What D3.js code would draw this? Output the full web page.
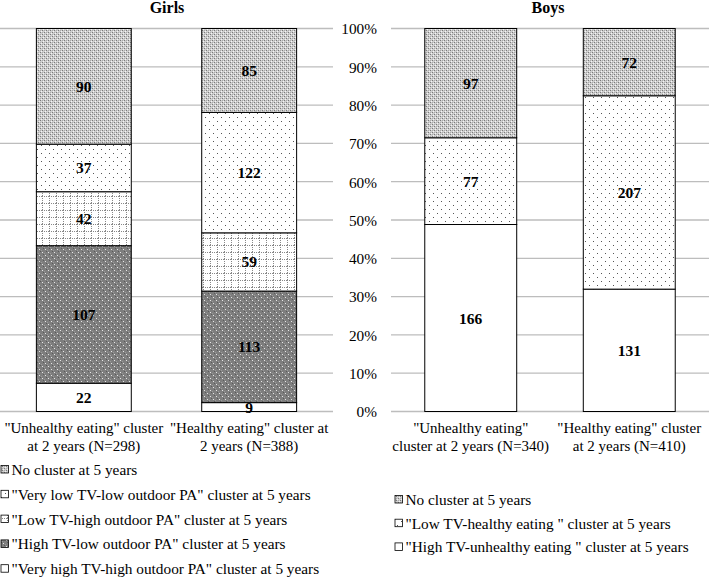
<!DOCTYPE html>
<html><head><meta charset="utf-8">
<script src="https://cdn.jsdelivr.net/npm/d3@7"></script>
<style>body{margin:0;background:#fff}svg{display:block}text{font-family:"Liberation Serif","Times New Roman",serif;fill:#000}</style>
</head><body>
<svg id="c" width="709" height="577" font-family="Liberation Serif"></svg>
<script>
// ---- DATA ----
const girlsCategories = [["\"Unhealthy eating\" cluster", "at 2 years (N=298)"], ["\"Healthy eating\" cluster at", "2 years (N=388)"]];
const girlsSeries = ["\"Very high TV-high outdoor PA\" cluster at 5 years", "\"High TV-low outdoor PA\" cluster at 5 years", "\"Low TV-high outdoor PA\" cluster at 5 years", "\"Very low TV-low outdoor PA\" cluster at 5 years", "No cluster at 5 years"];
const girlsValues = [[22, 9], [107, 113], [42, 59], [37, 122], [90, 85]];
const boysCategories = [["\"Unhealthy eating\"", "cluster at 2 years (N=340)"], ["\"Healthy eating\" cluster", "at 2 years (N=410)"]];
const boysSeries = ["\"High TV-unhealthy eating \" cluster at 5 years", "\"Low TV-healthy eating \" cluster at 5 years", "No cluster at 5 years"];
const boysValues = [[166, 131], [77, 207], [97, 72]];
const yTicks = [0, 0.1, 0.2, 0.3, 0.4, 0.5, 0.6, 0.7, 0.8, 0.9, 1];

const girlsFills = ["url(#pWhite)", "url(#pDark)", "url(#pGrid)", "url(#pSparse)", "url(#pDense)"];
const boysFills = ["url(#pWhite)", "url(#pSparse)", "url(#pDense)"];

const svg = d3.select("#c");
const defs = svg.append("defs");
function pat(id, w, h, bg, dots) {
  const p = defs.append("pattern").attr("id", id).attr("patternUnits", "userSpaceOnUse").attr("width", w).attr("height", h);
  p.append("rect").attr("width", w).attr("height", h).attr("fill", bg);
  dots.forEach(d => p.append("rect").attr("x", d[0]).attr("y", d[1]).attr("width", d[2] || 1).attr("height", d[3] || 1).attr("fill", d[4]));
  return p;
}
pat("pWhite", 4, 4, "#fff", []);
pat("pDense", 4, 4, "#cfcfcf", [[0,0,1,1,"#7a7a7a"],[2,2,1,1,"#7a7a7a"],[1,3,1,1,"#f4f4f4"],[3,1,1,1,"#f4f4f4"],[2,0,1,1,"#aaaaaa"],[0,2,1,1,"#aaaaaa"]]);
pat("pSparse", 8, 8, "#fff", [[1,1,1,1,"#555"],[5,5,1,1,"#555"]]);
const g = pat("pGrid", 7, 7, "#fff", []);
for (let i = 0; i < 7; i += 2) { g.append("rect").attr("x", 0).attr("y", i).attr("width", 1).attr("height", 1).attr("fill", "#888"); g.append("rect").attr("x", i).attr("y", 0).attr("width", 1).attr("height", 1).attr("fill", "#888"); }
pat("pDark", 6, 6, "#7e7e7e", [[0,0,1,1,"#e6e6e6"],[3,3,1,1,"#e6e6e6"],[1,2,1,1,"#5a5a5a"],[4,5,1,1,"#5a5a5a"],[2,1,1,1,"#9a9a9a"],[5,4,1,1,"#9a9a9a"]]);

const y = d3.scaleLinear().domain([0, 1]).range([411.5, 28.5]);

function panel(cfg) {
  const x = d3.scaleBand().domain(d3.range(cfg.cats.length)).range(cfg.range).paddingInner(cfg.pi).paddingOuter(cfg.po);
  const grp = svg.append("g");
  grp.selectAll("line.grid").data(yTicks).join("line")
    .attr("x1", cfg.range[0]).attr("x2", cfg.range[1])
    .attr("y1", d => y(d)).attr("y2", d => y(d))
    .attr("stroke", "#bdbdbd").attr("stroke-width", 1.3);
  grp.append("text").attr("x", cfg.titleX).attr("y", 13).attr("text-anchor", "middle")
    .attr("font-size", 16).attr("font-weight", "bold").text(cfg.title);
  const stack = d3.stack().keys(d3.range(cfg.values.length)).value((d, k) => cfg.values[k][d] / d3.sum(cfg.values, v => v[d]));
  const layers = stack(d3.range(cfg.cats.length));
  layers.forEach((layer, k) => {
    layer.forEach((seg, i) => {
      grp.append("rect").attr("x", x(i)).attr("width", x.bandwidth())
        .attr("y", y(seg[1])).attr("height", y(seg[0]) - y(seg[1]))
        .attr("fill", cfg.fills[k]).attr("stroke", "#000").attr("stroke-width", 1);
    });
  });
  layers.forEach((layer, k) => {
    layer.forEach((seg, i) => {
      grp.append("text").attr("x", x(i) + x.bandwidth() / 2).attr("y", (y(seg[0]) + y(seg[1])) / 2 + 5.5)
        .attr("text-anchor", "middle").attr("font-size", 15.5).attr("font-weight", "bold")
        .text(cfg.values[k][i]);
    });
  });
  cfg.cats.forEach((lines, i) => {
    lines.forEach((t, j) => grp.append("text").attr("x", x(i) + x.bandwidth() / 2).attr("y", 433 + j * 18)
      .attr("text-anchor", "middle").attr("font-size", 15).text(t));
  });
  // legend (top series first)
  const leg = cfg.series.map((s, k) => ({ s, k })).reverse();
  leg.forEach((d, j) => {
    const ly = cfg.legY + j * cfg.legStep;
    grp.append("rect").attr("x", cfg.legX).attr("y", ly - 9.5).attr("width", 7.5).attr("height", 7.5)
      .attr("fill", cfg.fills[d.k]).attr("stroke", "#000").attr("stroke-width", 0.8);
    grp.append("text").attr("x", cfg.legX + 10.5).attr("y", ly).attr("font-size", 15.3).text(d.s);
  });
  return x;
}

panel({ title: "Girls", titleX: 167, cats: girlsCategories, values: girlsValues, series: girlsSeries, fills: girlsFills,
  range: [0, 333], pi: 0.426, po: 0.22, legX: 1, legY: 475, legStep: 24.8 });
panel({ title: "Boys", titleX: 548, cats: boysCategories, values: boysValues, series: boysSeries, fills: boysFills,
  range: [391, 709], pi: 0.42, po: 0.213, legX: 395, legY: 505, legStep: 23.7 });

// y axis labels for boys panel
const yAxis = d3.axisLeft(y).tickValues(yTicks).tickFormat(d3.format(".0%")).tickSize(0).tickPadding(0);
const ya = svg.append("g").attr("transform", "translate(377,0)").call(yAxis);
ya.select(".domain").remove();
ya.selectAll("text").attr("font-size", 15.3).attr("font-family", "Liberation Serif").attr("fill", "#000").attr("dy", "0.35em");
</script>
</body></html>
